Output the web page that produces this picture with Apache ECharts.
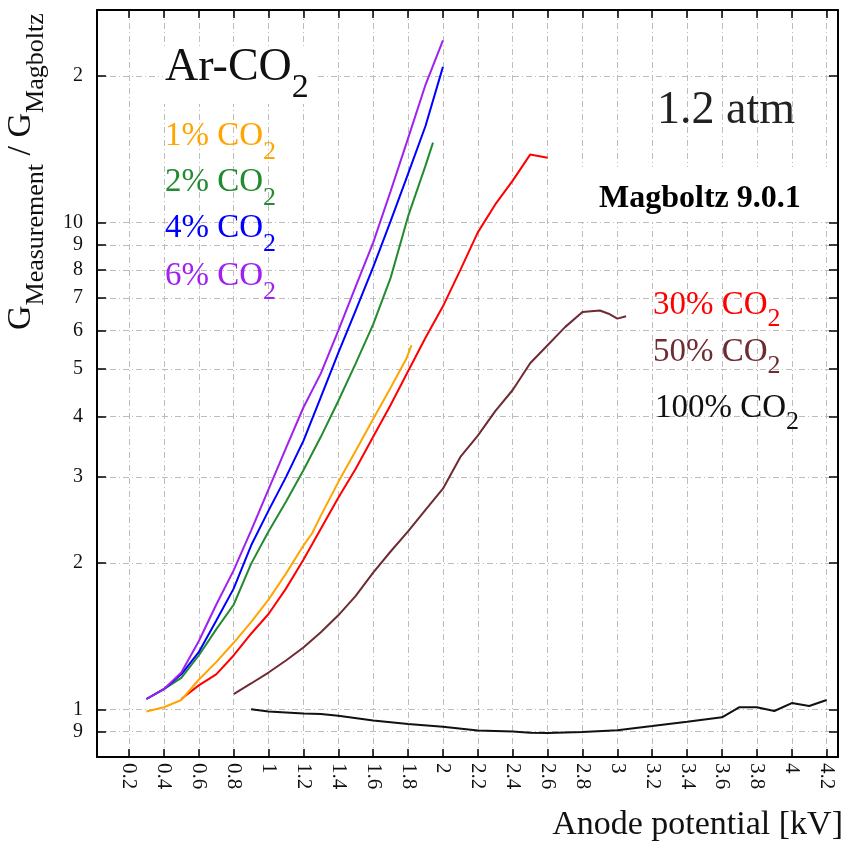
<!DOCTYPE html>
<html>
<head>
<meta charset="utf-8">
<script src="https://cdn.jsdelivr.net/npm/echarts@6/dist/echarts.min.js"></script>
<style>
  html, body { margin: 0; padding: 0; background: #ffffff; }
  #chart { width: 846px; height: 847px; }
</style>
</head>
<body>
<div id="chart"></div>
<script>
// Tick positions and their printed labels
const xTickValues = [0.2, 0.4, 0.6, 0.8, 1.0, 1.2, 1.4, 1.6, 1.8, 2.0, 2.2, 2.4, 2.6, 2.8, 3.0, 3.2, 3.4, 3.6, 3.8, 4.0, 4.2];
const xTickLabels = ['0.2', '0.4', '0.6', '0.8', '1', '1.2', '1.4', '1.6', '1.8', '2', '2.2', '2.4', '2.6', '2.8', '3', '3.2', '3.4', '3.6', '3.8', '4', '4.2'];
const yTickValues = [0.9, 1, 2, 3, 4, 5, 6, 7, 8, 9, 10, 20];
const yTickLabels = ['9', '1', '2', '3', '4', '5', '6', '7', '8', '9', '10', '2'];

// Gain ratio vs anode potential [kV], one pair of arrays per mixture
const v1 = [0.3, 0.4, 0.5, 0.6, 0.7, 0.8, 0.9, 1.0, 1.1, 1.2, 1.25, 1.3, 1.4, 1.5, 1.6, 1.7, 1.79, 1.82];
const g1 = [0.99, 1.01, 1.045, 1.15, 1.25, 1.37, 1.51, 1.68, 1.9, 2.17, 2.3, 2.5, 2.93, 3.4, 3.95, 4.58, 5.25, 5.6];

const v2 = [0.3, 0.4, 0.5, 0.6, 0.7, 0.8, 0.9, 1.0, 1.1, 1.2, 1.3, 1.4, 1.5, 1.6, 1.7, 1.8, 1.9, 1.943];
const g2 = [1.05, 1.10, 1.16, 1.29, 1.46, 1.64, 1.99, 2.32, 2.67, 3.1, 3.63, 4.3, 5.14, 6.18, 7.7, 10.3, 13.1, 14.6];

const v4 = [0.3, 0.4, 0.5, 0.6, 0.7, 0.8, 0.9, 1.0, 1.1, 1.2, 1.3, 1.4, 1.5, 1.6, 1.7, 1.8, 1.9, 2.0];
const g4 = [1.05, 1.10, 1.18, 1.31, 1.52, 1.77, 2.17, 2.56, 3.0, 3.56, 4.38, 5.4, 6.6, 8.1, 10.07, 12.6, 15.8, 20.9];

const v6 = [0.3, 0.4, 0.5, 0.6, 0.7, 0.8, 0.9, 1.0, 1.1, 1.2, 1.3, 1.4, 1.5, 1.6, 1.7, 1.8, 1.9, 2.0];
const g6 = [1.05, 1.10, 1.19, 1.38, 1.64, 1.93, 2.33, 2.83, 3.44, 4.17, 4.9, 6.0, 7.4, 9.1, 11.6, 14.9, 19.2, 23.7];

const v30 = [0.5, 0.6, 0.7, 0.8, 0.9, 1.0, 1.1, 1.2, 1.3, 1.4, 1.5, 1.6, 1.7, 1.8, 1.9, 2.0, 2.1, 2.2, 2.3, 2.4, 2.5, 2.6];
const g30 = [1.05, 1.12, 1.18, 1.29, 1.43, 1.57, 1.77, 2.03, 2.35, 2.72, 3.12, 3.63, 4.22, 4.95, 5.8, 6.73, 8.0, 9.55, 10.9, 12.2, 13.8, 13.6];

const v50 = [0.8, 0.9, 1.0, 1.1, 1.2, 1.3, 1.4, 1.5, 1.6, 1.7, 1.8, 1.9, 2.0, 2.1, 2.2, 2.3, 2.4, 2.5, 2.6, 2.7, 2.8, 2.9, 2.95, 3.0, 3.05];
const g50 = [1.075, 1.13, 1.19, 1.26, 1.34, 1.44, 1.56, 1.71, 1.91, 2.11, 2.32, 2.57, 2.84, 3.3, 3.65, 4.1, 4.53, 5.14, 5.6, 6.1, 6.55, 6.6, 6.5, 6.35, 6.42];

const v100 = [0.9, 1.0, 1.2, 1.3, 1.4, 1.6, 1.8, 2.0, 2.2, 2.4, 2.5, 2.6, 2.8, 3.0, 3.2, 3.4, 3.6, 3.7, 3.8, 3.9, 4.0, 4.1, 4.2];
const g100 = [1.0, 0.99, 0.98, 0.978, 0.97, 0.948, 0.933, 0.921, 0.905, 0.90, 0.895, 0.894, 0.898, 0.906, 0.924, 0.943, 0.963, 1.01, 1.01, 0.992, 1.03, 1.016, 1.045];

const mixtures = [
  { name: '100% CO2', v: v100, g: g100, color: '#111111' },
  { name: '50% CO2', v: v50, g: g50, color: '#6e2b32' },
  { name: '30% CO2', v: v30, g: g30, color: '#ff0000' },
  { name: '1% CO2', v: v1, g: g1, color: '#ffa500' },
  { name: '2% CO2', v: v2, g: g2, color: '#238b2f' },
  { name: '4% CO2', v: v4, g: g4, color: '#0000ff' },
  { name: '6% CO2', v: v6, g: g6, color: '#a020f0' }
];

const SERIF = '"Liberation Serif", "DejaVu Serif", serif';
const X_MIN = 0.0166, X_MAX = 4.265;
const Y_MIN = 0.798, Y_MAX = 27.35;

const gridStyle = { color: '#bdbdbd', width: 1, type: [6, 3, 1, 3] };
const frameLine = { show: true, onZero: false, lineStyle: { color: '#000', width: 2 } };

function labelFor(values, labels) {
  return function (val) {
    for (let i = 0; i < values.length; i++) {
      if (Math.abs(values[i] - val) < 1e-6 * Math.max(1, Math.abs(val))) return labels[i];
    }
    return '';
  };
}

// rich-text styles for a run of normal text followed by a lowered subscript:
// the main run sits at the top of the line, the subscript is centred in a taller box
function subRich(color, mainSize, mainLine, subSize, subLine) {
  return {
    m: { fontFamily: SERIF, fontSize: mainSize, lineHeight: mainLine, verticalAlign: 'top', fill: color, color: color },
    s: { fontFamily: SERIF, fontSize: subSize, lineHeight: subLine, verticalAlign: 'middle', fill: color, color: color }
  };
}

function co2Text(prefix, color, x, top, subLine) {
  return {
    type: 'text', z: 110,
    style: {
      x: x, y: top, align: 'left', verticalAlign: 'top',
      text: '{m|' + prefix + ' CO}{s|2}',
      rich: subRich(color, 33, 40, 26, subLine)
    }
  };
}

const chart = echarts.init(document.getElementById('chart'), null, { renderer: 'canvas' });

chart.setOption({
  animation: false,
  backgroundColor: '#ffffff',
  grid: { left: 97, right: 8, top: 10, bottom: 90, containLabel: false },
  xAxis: [
    {
      type: 'value', min: X_MIN, max: X_MAX, position: 'bottom',
      axisLine: frameLine,
      axisTick: { show: true, inside: true, length: 8, customValues: xTickValues, lineStyle: { color: '#000', width: 1.5 } },
      axisLabel: {
        show: true, customValues: xTickValues, rotate: -90, margin: 6,
        formatter: labelFor(xTickValues, xTickLabels),
        fontFamily: SERIF, fontSize: 21, color: '#111'
      },
      splitLine: { show: true, lineStyle: gridStyle }
    },
    {
      type: 'value', min: X_MIN, max: X_MAX, position: 'top',
      axisLine: frameLine,
      axisTick: { show: true, inside: true, length: 8, customValues: xTickValues, lineStyle: { color: '#000', width: 1.5 } },
      axisLabel: { show: false },
      splitLine: { show: false }
    }
  ],
  yAxis: [
    {
      type: 'log', logBase: 10, min: Y_MIN, max: Y_MAX, position: 'left',
      axisLine: frameLine,
      axisTick: { show: true, inside: true, length: 9, customValues: yTickValues, lineStyle: { color: '#000', width: 1.5 } },
      axisLabel: {
        show: true, customValues: yTickValues, margin: 14,
        formatter: labelFor(yTickValues, yTickLabels),
        fontFamily: SERIF, fontSize: 20, color: '#111'
      },
      splitLine: { show: true, lineStyle: gridStyle },
      minorTick: { show: false },
      minorSplitLine: { show: false }
    },
    {
      type: 'log', logBase: 10, min: Y_MIN, max: Y_MAX, position: 'right',
      axisLine: frameLine,
      axisTick: { show: true, inside: true, length: 9, customValues: yTickValues, lineStyle: { color: '#000', width: 1.5 } },
      axisLabel: { show: false },
      splitLine: { show: false }
    }
  ],
  series: mixtures.map(function (m) {
    return {
      name: m.name, type: 'line', xAxisIndex: 0, yAxisIndex: 0,
      data: m.v.map(function (v, i) { return [v, m.g[i]]; }),
      showSymbol: false, symbol: 'none', smooth: false,
      lineStyle: { color: m.color, width: 2 },
      itemStyle: { color: m.color },
      z: 5
    };
  }),
  graphic: [
    // white panels behind the two headings
    { type: 'rect', z: 100, shape: { x: 163, y: 48, width: 155, height: 56 }, style: { fill: '#ffffff' } },
    { type: 'rect', z: 100, shape: { x: 580, y: 167, width: 247, height: 55 }, style: { fill: '#ffffff' } },
    {
      type: 'text', z: 110,
      style: {
        x: 165, y: 45, align: 'left', verticalAlign: 'top',
        text: '{m|Ar-CO}{s|2}',
        rich: subRich('#111', 46, 56, 34, 86)
      }
    },
    co2Text('1%', '#ffa500', 165, 120, 64),
    co2Text('2%', '#238b2f', 165, 166, 64),
    co2Text('4%', '#0000ff', 165, 212, 64),
    co2Text('6%', '#a020f0', 165, 260, 64),
    co2Text('30%', '#ff0000', 653, 289, 60),
    co2Text('50%', '#6e2b32', 653, 336, 60),
    co2Text('100%', '#111111', 655, 392, 60),
    {
      type: 'text', z: 110,
      style: { x: 657, y: 111, text: '1.2 atm', align: 'left', verticalAlign: 'middle', font: '46px ' + SERIF, fill: '#222' }
    },
    {
      type: 'text', z: 110,
      style: { x: 599, y: 199, text: 'Magboltz 9.0.1', align: 'left', verticalAlign: 'middle', font: 'bold 32px ' + SERIF, fill: '#000' }
    },
    {
      type: 'text', z: 110,
      style: { x: 843, y: 825, text: 'Anode potential [kV]', align: 'right', verticalAlign: 'middle', font: '34px ' + SERIF, fill: '#111' }
    },
    {
      type: 'text', z: 110, x: 4, y: 330, rotation: Math.PI / 2,
      style: {
        x: 0, y: 0, align: 'left', verticalAlign: 'top',
        text: '{m|G}{s|Measurement}{m| / G}{s|Magboltz}',
        rich: subRich('#111', 34, 42, 26, 64)
      }
    }
  ]
});
</script>
</body>
</html>
